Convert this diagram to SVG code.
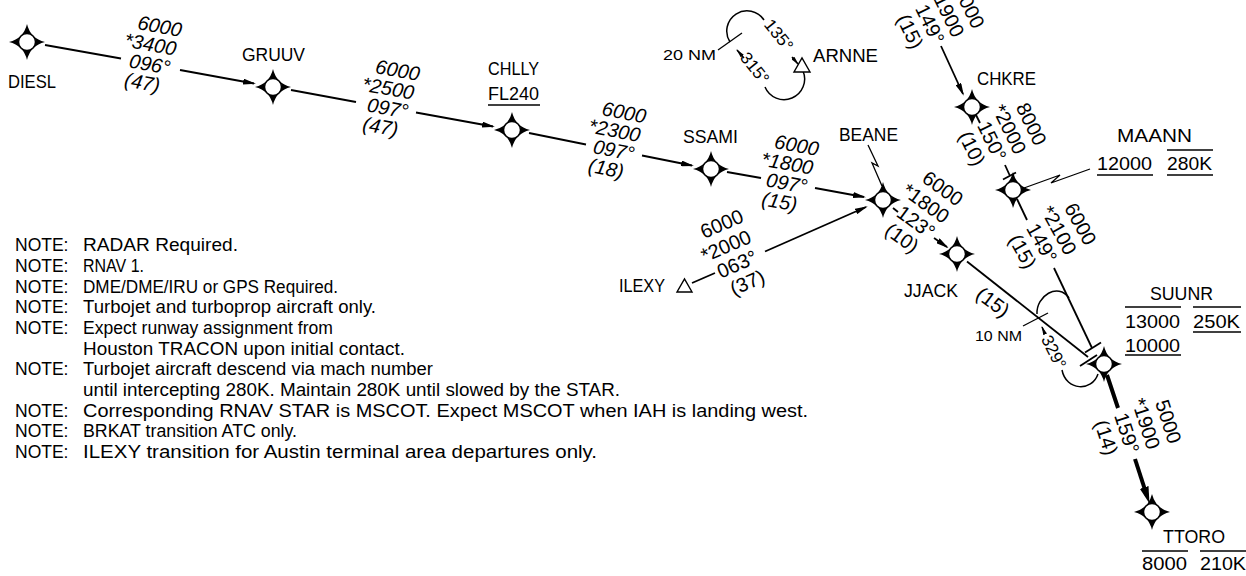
<svg xmlns="http://www.w3.org/2000/svg" xmlns:xlink="http://www.w3.org/1999/xlink" width="1246" height="576" viewBox="0 0 1246 576">
<style>
text{font-family:"Liberation Sans",Arial,sans-serif;fill:#000}
.lbl{font-size:18.5px}
.note{font-size:17.5px}
.alt{font-size:20px;font-style:italic;text-anchor:middle}
.alt2{font-size:20px;text-anchor:middle}
.sm{font-size:15px}
.smc{font-size:17px;text-anchor:middle}
.rl{stroke:#000;stroke-width:1.5;fill:none}
</style>
<defs>
<g id="wp"><path d="M0,-18 Q3.5,-3.5 18,0 Q3.5,3.5 0,18 Q-3.5,3.5 -18,0 Q-3.5,-3.5 0,-18Z" fill="#000"/><circle r="8.5" fill="#fff" stroke="#000" stroke-width="1.5"/></g>
<marker id="ah" viewBox="0 0 13 6" refX="11" refY="3" markerWidth="13" markerHeight="6" markerUnits="userSpaceOnUse" orient="auto"><path d="M0,0 L13,3 L0,6Z" fill="#000"/></marker>
<marker id="ahb" viewBox="0 0 17 9" refX="9" refY="4.5" markerWidth="17" markerHeight="9" markerUnits="userSpaceOnUse" orient="auto"><path d="M0,0 L17,4.5 L0,9Z" fill="#000"/></marker>
<marker id="ahs" viewBox="0 0 9 4" refX="8" refY="2" markerWidth="9" markerHeight="4" markerUnits="userSpaceOnUse" orient="auto"><path d="M0,0 L9,2 L0,4Z" fill="#000"/></marker>
</defs>
<rect width="1246" height="576" fill="#fff"/>

<g id="connectors" stroke="#000" stroke-width="1.8" fill="none">
<line x1="45" y1="45" x2="121" y2="58.5"/>
<line x1="180" y1="70" x2="254" y2="83.5" marker-end="url(#ah)"/>
<line x1="291" y1="90" x2="356" y2="102"/>
<line x1="416" y1="112.5" x2="493" y2="126.5" marker-end="url(#ah)"/>
<line x1="529" y1="133" x2="586" y2="144.5"/>
<line x1="642" y1="155.5" x2="692" y2="165.5" marker-end="url(#ah)"/>
<line x1="727" y1="172" x2="761" y2="178"/>
<line x1="815" y1="188" x2="864" y2="197" marker-end="url(#ah)"/>
<line x1="692" y1="283" x2="715" y2="273"/>
<line x1="765" y1="251.5" x2="866" y2="207" marker-end="url(#ah)"/>
<line x1="893" y1="208" x2="898" y2="212"/>
<line x1="934" y1="238" x2="947" y2="247" marker-end="url(#ah)"/>
<line x1="967" y1="261.5" x2="1088" y2="357"/>
<line x1="1080" y1="366" x2="1097" y2="355"/>
<line x1="941" y1="46" x2="963" y2="94" marker-end="url(#ah)"/>
<line x1="976" y1="115" x2="980" y2="123"/>
<line x1="1005" y1="165" x2="1010" y2="176"/>
<line x1="1003" y1="179.5" x2="1016" y2="172.5"/>
<line x1="1017" y1="199" x2="1027" y2="220"/>
<line x1="1054" y1="268" x2="1092" y2="348"/>
<line x1="1085" y1="352.5" x2="1101" y2="342.5"/>
<line x1="1107" y1="375" x2="1118" y2="408" stroke-width="4"/>
<line x1="1135" y1="459" x2="1147" y2="496" stroke-width="4" marker-end="url(#ahb)"/>
<polyline points="868,145 878,166 872,163 882,186" stroke-width="1.3"/>
<polyline points="1090,169 1051,183 1060,175 1024,188" stroke-width="1.3"/>
<path d="M764,20 A20,20 0 0 0 730,42" stroke-width="1.5"/>
<path d="M803,71 A20.5,20.5 0 0 1 765,87" stroke-width="1.5"/>
<line x1="744" y1="58" x2="737" y2="50" stroke-width="1.5" marker-end="url(#ahs)"/>
<line x1="792" y1="57" x2="798" y2="64" stroke-width="1.5" marker-end="url(#ahs)"/>
<line x1="718" y1="50" x2="742" y2="33" stroke-width="1.3"/>
<path d="M1037,314 C1036,296 1058,282 1069,298" stroke-width="1.5"/>
<path d="M1062,370 C1066,391 1092,392 1098,374" stroke-width="1.5"/>
<line x1="1045" y1="334" x2="1042" y2="327" stroke-width="1.5" marker-end="url(#ahs)"/>
<line x1="1023" y1="326" x2="1048" y2="313" stroke-width="1.3"/>
</g>

<g id="DIESL"><use xlink:href="#wp" href="#wp" x="27" y="42"/><text class="lbl" x="8" y="88" textLength="48" lengthAdjust="spacingAndGlyphs">DIESL</text></g>
<g id="GRUUV"><use xlink:href="#wp" href="#wp" x="273" y="87"/><text class="lbl" x="242" y="61" textLength="63" lengthAdjust="spacingAndGlyphs">GRUUV</text></g>
<g id="CHLLY"><use xlink:href="#wp" href="#wp" x="512" y="130"/><text class="lbl" x="488" y="75" textLength="51" lengthAdjust="spacingAndGlyphs">CHLLY</text><text class="lbl" x="488" y="100" textLength="51" lengthAdjust="spacingAndGlyphs">FL240</text><line class="rl" x1="488" y1="105" x2="540" y2="105"/></g>
<g id="SSAMI"><use xlink:href="#wp" href="#wp" x="711" y="169"/><text class="lbl" x="683" y="143" textLength="55" lengthAdjust="spacingAndGlyphs">SSAMI</text></g>
<g id="BEANE"><use xlink:href="#wp" href="#wp" x="883" y="200"/><text class="lbl" x="839" y="141" textLength="59" lengthAdjust="spacingAndGlyphs">BEANE</text></g>
<g id="ILEXY"><polygon points="677,292 692,292 684.5,279" fill="#fff" stroke="#000" stroke-width="1.4"/><text class="lbl" x="619" y="292" textLength="46" lengthAdjust="spacingAndGlyphs">ILEXY</text></g>
<g id="JJACK"><use xlink:href="#wp" href="#wp" x="957" y="254"/><text class="lbl" x="904" y="297" textLength="54" lengthAdjust="spacingAndGlyphs">JJACK</text></g>
<g id="CHKRE"><use xlink:href="#wp" href="#wp" x="972" y="107"/><text class="lbl" x="977" y="85" textLength="59" lengthAdjust="spacingAndGlyphs">CHKRE</text></g>
<g id="MAANN"><use xlink:href="#wp" href="#wp" x="1013" y="190"/><text class="lbl" x="1117" y="142" textLength="75" lengthAdjust="spacingAndGlyphs">MAANN</text><text class="lbl" x="1097" y="170" textLength="55" lengthAdjust="spacingAndGlyphs">12000</text><text class="lbl" x="1167" y="170" textLength="45" lengthAdjust="spacingAndGlyphs">280K</text><line class="rl" x1="1097" y1="175" x2="1153" y2="175"/><line class="rl" x1="1167" y1="150" x2="1213" y2="150"/><line class="rl" x1="1167" y1="175" x2="1213" y2="175"/></g>
<g id="SUUNR"><use xlink:href="#wp" href="#wp" x="1104" y="364"/><text class="lbl" x="1150" y="300" textLength="63" lengthAdjust="spacingAndGlyphs">SUUNR</text><line class="rl" x1="1125" y1="307" x2="1181" y2="307"/><line class="rl" x1="1193" y1="307" x2="1241" y2="307"/><text class="lbl" x="1125" y="328" textLength="55" lengthAdjust="spacingAndGlyphs">13000</text><text class="lbl" x="1193" y="328" textLength="47" lengthAdjust="spacingAndGlyphs">250K</text><line class="rl" x1="1193" y1="332" x2="1241" y2="332"/><text class="lbl" x="1125" y="352" textLength="55" lengthAdjust="spacingAndGlyphs">10000</text><line class="rl" x1="1125" y1="355" x2="1181" y2="355"/></g>
<g id="TTORO"><use xlink:href="#wp" href="#wp" x="1152" y="512"/><text class="lbl" x="1163" y="543" textLength="62" lengthAdjust="spacingAndGlyphs">TTORO</text><line class="rl" x1="1142" y1="551" x2="1188" y2="551"/><line class="rl" x1="1200" y1="551" x2="1246" y2="551"/><text class="lbl" x="1142" y="570" textLength="45" lengthAdjust="spacingAndGlyphs">8000</text><text class="lbl" x="1200" y="570" textLength="46" lengthAdjust="spacingAndGlyphs">210K</text></g>
<g id="ARNNE"><polygon points="794,72 810,72 802,58" fill="#fff" stroke="#000" stroke-width="1.4"/><text class="lbl" x="813" y="62" textLength="65" lengthAdjust="spacingAndGlyphs">ARNNE</text>
<text class="sm" x="663" y="60" textLength="53" lengthAdjust="spacingAndGlyphs">20 NM</text>
<text class="smc" transform="translate(779,35) rotate(51)" y="6">135°</text>
<text class="smc" transform="translate(755,68) rotate(51)" y="6">315°</text>
</g>
<g id="hold-suunr"><text class="sm" x="975" y="341" textLength="47" lengthAdjust="spacingAndGlyphs">10 NM</text>
<text class="smc" transform="translate(1054,352) rotate(63)" y="6">329°</text></g>

<g id="route-labels">
<g transform="translate(150,63) rotate(10.4)"><text class="alt" x="3" y="-31">6000</text><text class="alt" x="-3" y="-11.5">*3400</text><text class="alt" y="8">096°</text><text class="alt" x="-4" y="27.5">(47)</text></g>
<g transform="translate(388,107) rotate(10.2)"><text class="alt" x="3" y="-31">6000</text><text class="alt" x="-3" y="-11.5">*2500</text><text class="alt" y="8">097°</text><text class="alt" x="-4" y="27.5">(47)</text></g>
<g transform="translate(614,149) rotate(11)"><text class="alt" x="3" y="-31">6000</text><text class="alt" x="-3" y="-11.5">*2300</text><text class="alt" y="8">097°</text><text class="alt" x="-4" y="27.5">(18)</text></g>
<g transform="translate(787,182) rotate(10.2)"><text class="alt" x="3" y="-31">6000</text><text class="alt" x="-3" y="-11.5">*1800</text><text class="alt" y="8">097°</text><text class="alt" x="-4" y="27.5">(15)</text></g>
<g transform="translate(737,264) rotate(-23.4)"><text class="alt2" x="2" y="-36">6000</text><text class="alt2" x="-3" y="-14">*2000</text><text class="alt2" y="7">063°</text><text class="alt2" x="2" y="28">(37)</text></g>
<g transform="translate(916,222) rotate(36)"><text class="alt2" x="2" y="-36">6000</text><text class="alt2" x="-3" y="-14">*1800</text><text class="alt2" y="7">123°</text><text class="alt2" x="-2" y="28">(10)</text></g>
<g transform="translate(992,141) rotate(64)"><text class="alt2" x="2" y="-36">8000</text><text class="alt2" x="-3" y="-14">*2000</text><text class="alt2" y="7">150°</text><text class="alt2" x="-2" y="28">(10)</text></g>
<g transform="translate(1042,243) rotate(61)"><text class="alt2" x="2" y="-36">6000</text><text class="alt2" x="-3" y="-14">*2100</text><text class="alt2" y="7">149°</text><text class="alt2" x="-2" y="28">(15)</text></g>
<g transform="translate(1127,433) rotate(72)"><text class="alt2" x="2" y="-36">5000</text><text class="alt2" x="-3" y="-14">*1900</text><text class="alt2" y="7">159°</text><text class="alt2" x="-2" y="28">(14)</text></g>
<g transform="translate(930,24) rotate(64)"><text class="alt2" x="2" y="-36">6000</text><text class="alt2" x="-3" y="-14">*1900</text><text class="alt2" y="7">149°</text><text class="alt2" x="-2" y="28">(15)</text></g>
<text class="alt2" transform="translate(993,302) rotate(37)" y="7">(15)</text>
</g>

<g id="notes">
<text class="note" x="15" y="251">NOTE:</text><text class="note" x="83" y="251" textLength="155" lengthAdjust="spacingAndGlyphs">RADAR Required.</text>
<text class="note" x="15" y="272">NOTE:</text><text class="note" x="83" y="272" textLength="61" lengthAdjust="spacingAndGlyphs">RNAV 1.</text>
<text class="note" x="15" y="293">NOTE:</text><text class="note" x="83" y="293" textLength="255" lengthAdjust="spacingAndGlyphs">DME/DME/IRU or GPS Required.</text>
<text class="note" x="15" y="313">NOTE:</text><text class="note" x="83" y="313" textLength="293" lengthAdjust="spacingAndGlyphs">Turbojet and turboprop aircraft only.</text>
<text class="note" x="15" y="334">NOTE:</text><text class="note" x="83" y="334" textLength="250" lengthAdjust="spacingAndGlyphs">Expect runway assignment from</text>
<text class="note" x="83" y="355" textLength="322" lengthAdjust="spacingAndGlyphs">Houston TRACON upon initial contact.</text>
<text class="note" x="15" y="375">NOTE:</text><text class="note" x="83" y="375" textLength="350" lengthAdjust="spacingAndGlyphs">Turbojet aircraft descend via mach number</text>
<text class="note" x="83" y="396" textLength="537" lengthAdjust="spacingAndGlyphs">until intercepting 280K. Maintain 280K until slowed by the STAR.</text>
<text class="note" x="15" y="417">NOTE:</text><text class="note" x="83" y="417" textLength="725" lengthAdjust="spacingAndGlyphs">Corresponding RNAV STAR is MSCOT. Expect MSCOT when IAH is landing west.</text>
<text class="note" x="15" y="437">NOTE:</text><text class="note" x="83" y="437" textLength="214" lengthAdjust="spacingAndGlyphs">BRKAT transition ATC only.</text>
<text class="note" x="15" y="458">NOTE:</text><text class="note" x="83" y="458" textLength="514" lengthAdjust="spacingAndGlyphs">ILEXY transition for Austin terminal area departures only.</text>
</g>
</svg>
